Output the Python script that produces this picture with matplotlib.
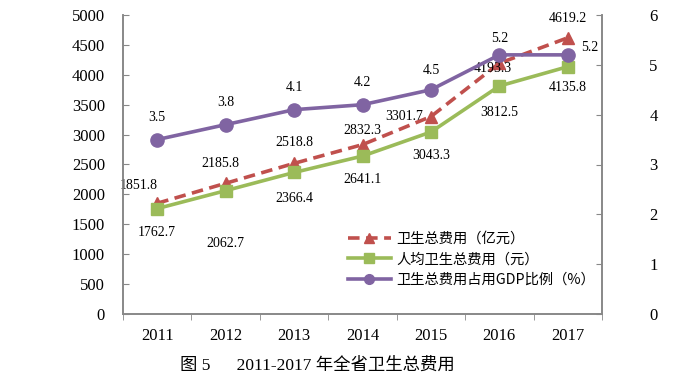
import matplotlib
matplotlib.use("Agg")
import matplotlib.pyplot as plt
from matplotlib.ticker import MultipleLocator

years = ["2011", "2012", "2013", "2014", "2015", "2016", "2017"]
total_exp = [1851.8, 2185.8, 2518.8, 2832.3, 3301.7, 4193.3, 4619.2]
per_capita = [1762.7, 2062.7, 2366.4, 2641.1, 3043.3, 3812.5, 4135.8]
gdp_share = [3.5, 3.8, 4.1, 4.2, 4.5, 5.2, 5.2]

labels = ["卫生总费用（亿元）", "人均卫生总费用（元）", "卫生总费用占用GDP比例（%）"]
caption = "图 5      2011-2017 年全省卫生总费用"

# label offsets in points (dx, dy)
off_total = [(-13, 13), (-4, 14), (0, 15), (0, 10), (-19, 0), (-5, -4), (0, 14)]
off_pc = [(0, -17), (0, -38), (0, -19), (0, -17), (0, -17), (0, -19), (0, -15)]
off_gdp = [(0, 16), (0, 16), (0, 16), (0, 16), (0, 14), (0, 12), (16, 5)]

RED = "#C0504D"
GREEN = "#9BBB59"
PURPLE = "#8064A2"
SERIF = ["Liberation Serif", "Noto Sans CJK SC"]
CJK = ["Noto Sans CJK SC", "DejaVu Sans"]

fig = plt.figure(figsize=(6.74, 3.87), dpi=100)
ax = fig.add_axes([123 / 674, 1 - 314 / 387, (602 - 123) / 674, (314 - 15) / 387])
ax2 = ax.twinx()

x = list(range(len(years)))

l1, = ax.plot(x, total_exp, color=RED, lw=2.6, ls=(0, (3.2, 1.8)), marker="^",
              ms=8.5, zorder=3)
l2, = ax.plot(x, per_capita, color=GREEN, lw=2.6, marker="s", ms=8.5, zorder=3)
l3, = ax2.plot(x, gdp_share, color=PURPLE, lw=2.6, marker="o", ms=9.5, zorder=3)

for xi, v, (dx, dy) in zip(x, total_exp, off_total):
    ax.annotate(f"{v:.1f}", (xi, v), xytext=(dx, dy), textcoords="offset points",
                ha="center", va="center", fontsize=10, family=SERIF)
for xi, v, (dx, dy) in zip(x, per_capita, off_pc):
    ax.annotate(f"{v:.1f}", (xi, v), xytext=(dx, dy), textcoords="offset points",
                ha="center", va="center", fontsize=10, family=SERIF)
for xi, v, (dx, dy) in zip(x, gdp_share, off_gdp):
    ax2.annotate(f"{v:.1f}", (xi, v), xytext=(dx, dy), textcoords="offset points",
                 ha="center", va="center", fontsize=10, family=SERIF)

ax.set_xlim(-0.5, len(years) - 0.5)
ax.set_ylim(0, 5000)
ax2.set_ylim(0, 6)
ax.yaxis.set_major_locator(MultipleLocator(500))
ax2.yaxis.set_major_locator(MultipleLocator(1))

ax.set_xticks(x)
ax.set_xticklabels(years)
ax.set_xticks([i + 0.5 for i in range(-1, len(years))], minor=True)
ax.tick_params(axis="x", which="major", length=0, pad=10, labelsize=12)
ax.tick_params(axis="x", which="minor", length=4, direction="out", color="#888888")
for t in ax.get_xticklabels():
    t.set_family(SERIF)

ax.tick_params(axis="y", direction="in", length=4, color="#888888", pad=13, labelsize=12)
ax2.tick_params(axis="y", direction="in", length=4, color="#888888", pad=34, labelsize=12)
for t in ax.get_yticklabels() + ax2.get_yticklabels():
    t.set_family(SERIF)

for a in (ax, ax2):
    a.spines["top"].set_visible(False)
    for s in ("left", "right", "bottom"):
        a.spines[s].set_color("#888888")
        a.spines[s].set_linewidth(1.2)

leg = ax.legend([l1, l2, l3], labels, loc="upper left",
                bbox_to_anchor=(342 / 674, 1 - 226 / 387), bbox_transform=fig.transFigure,
                frameon=False, prop={"family": CJK, "size": 10.3},
                handlelength=3.0, handletextpad=0.4, labelspacing=0.45,
                borderaxespad=0)
for h in leg.legend_handles:
    h.set_markersize(7)

fig.text(180 / 674, 1 - 366 / 387, caption, ha="left", va="center",
         fontsize=12.5, family=SERIF)

fig.savefig("out.png", dpi=100)
